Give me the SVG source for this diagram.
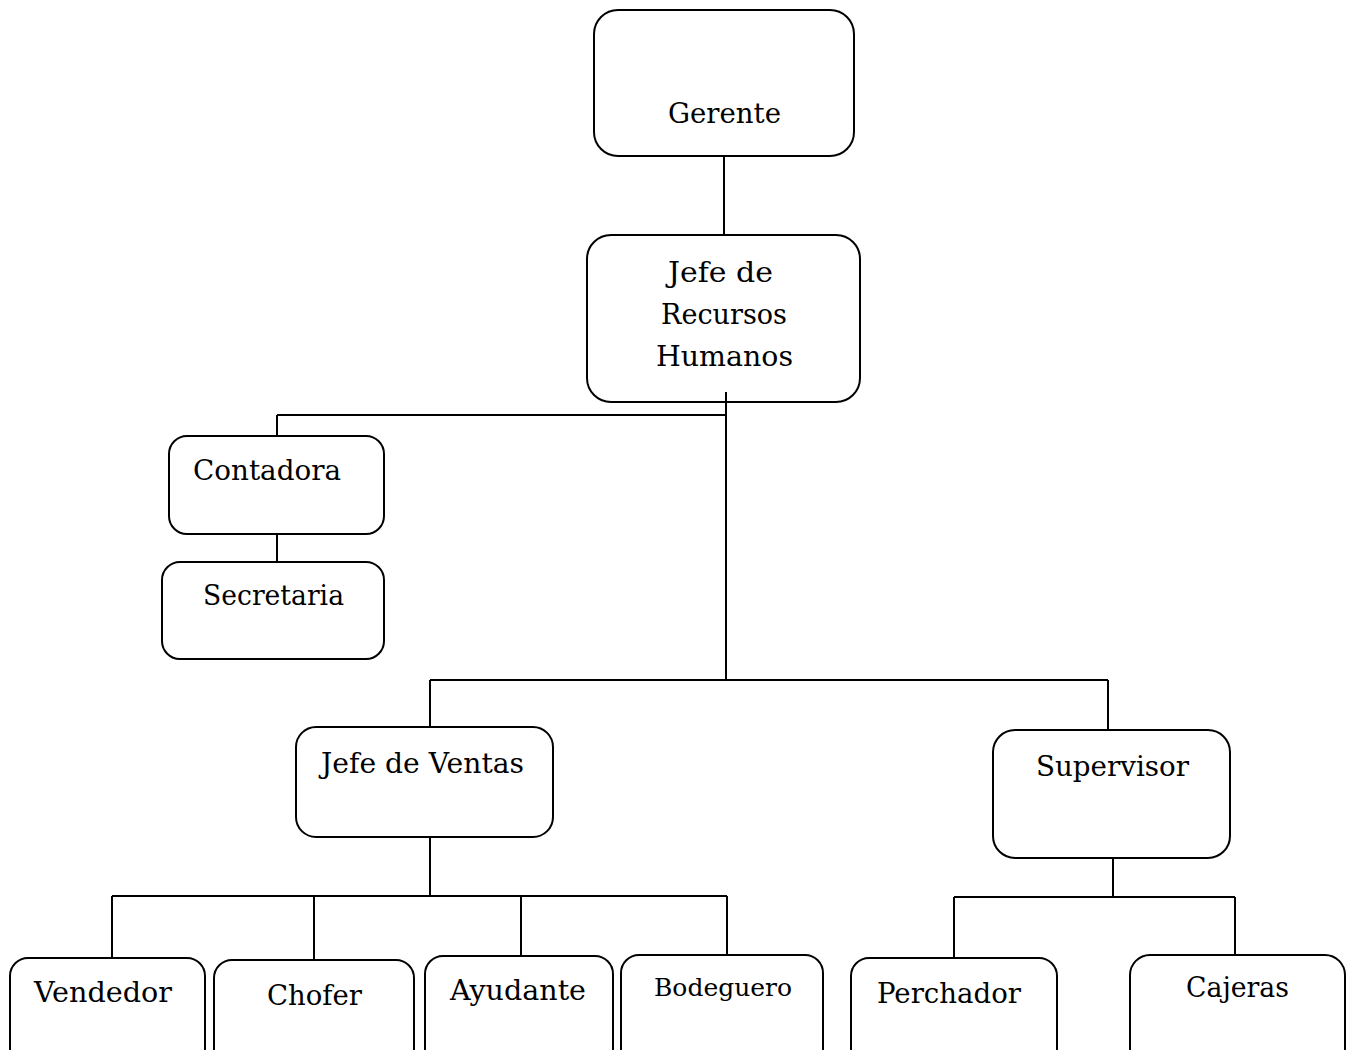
<svg xmlns="http://www.w3.org/2000/svg" width="1354" height="1050" viewBox="0 0 1354 1050">
<style>
.box{fill:#fff;stroke:#000;stroke-width:2}
.lbl{font-family:"DejaVu Serif","Liberation Serif",serif;font-size:27px;fill:#000}
.sm{font-size:24px}
.con{stroke:#000;stroke-width:2;fill:none}
</style>
<rect width="1354" height="1050" fill="#fff"/>
<g id="gerente"><rect class="box" x="594" y="10" width="260" height="146" rx="24"/><text class="lbl" x="668" y="123" textLength="113" lengthAdjust="spacingAndGlyphs">Gerente</text></g>
<g id="jefe-rrhh"><rect class="box" x="587" y="235" width="273" height="167" rx="24"/>
<text class="lbl" x="668" y="282" textLength="105" lengthAdjust="spacingAndGlyphs">Jefe de</text>
<text class="lbl" x="661" y="324" textLength="126" lengthAdjust="spacingAndGlyphs">Recursos</text>
<text class="lbl" x="656" y="366" textLength="137" lengthAdjust="spacingAndGlyphs">Humanos</text></g>
<g id="contadora"><rect class="box" x="169" y="436" width="215" height="98" rx="18"/><text class="lbl" x="193" y="480" textLength="148" lengthAdjust="spacingAndGlyphs">Contadora</text></g>
<g id="secretaria"><rect class="box" x="162" y="562" width="222" height="97" rx="18"/><text class="lbl" x="203" y="605" textLength="141" lengthAdjust="spacingAndGlyphs">Secretaria</text></g>
<g id="jefe-ventas"><rect class="box" x="296" y="727" width="257" height="110" rx="20"/><text class="lbl" x="321" y="773" textLength="203" lengthAdjust="spacingAndGlyphs">Jefe de Ventas</text></g>
<g id="supervisor"><rect class="box" x="993" y="730" width="237" height="128" rx="22"/><text class="lbl" x="1036" y="776" textLength="153" lengthAdjust="spacingAndGlyphs">Supervisor</text></g>
<g id="vendedor"><rect class="box" x="10" y="958" width="195" height="120" rx="18"/><text class="lbl" x="34" y="1002" textLength="138" lengthAdjust="spacingAndGlyphs">Vendedor</text></g>
<g id="chofer"><rect class="box" x="214" y="960" width="200" height="120" rx="18"/><text class="lbl" x="267" y="1005" textLength="95" lengthAdjust="spacingAndGlyphs">Chofer</text></g>
<g id="ayudante"><rect class="box" x="425" y="956" width="188" height="120" rx="18"/><text class="lbl" x="450" y="1000" textLength="136" lengthAdjust="spacingAndGlyphs">Ayudante</text></g>
<g id="bodeguero"><rect class="box" x="621" y="955" width="202" height="120" rx="18"/><text class="lbl sm" x="654" y="996" textLength="138" lengthAdjust="spacingAndGlyphs">Bodeguero</text></g>
<g id="perchador"><rect class="box" x="851" y="958" width="206" height="120" rx="18"/><text class="lbl" x="877" y="1003" textLength="144" lengthAdjust="spacingAndGlyphs">Perchador</text></g>
<g id="cajeras"><rect class="box" x="1130" y="955" width="215" height="120" rx="20"/><text class="lbl" x="1186" y="997" textLength="103" lengthAdjust="spacingAndGlyphs">Cajeras</text></g>
<g id="connectors">
<path class="con" d="M724 156V235"/>
<path class="con" d="M726 392V680M277 415H726M277 415V436"/>
<path class="con" d="M277 534V562"/>
<path class="con" d="M430 680H1108M430 680V727M1108 680V730"/>
<path class="con" d="M430 837V896M112 896H727M112 896V958M314 896V960M521 896V956M727 896V955"/>
<path class="con" d="M1113 858V897M954 897H1235M954 897V958M1235 897V955"/>
</g>
</svg>
